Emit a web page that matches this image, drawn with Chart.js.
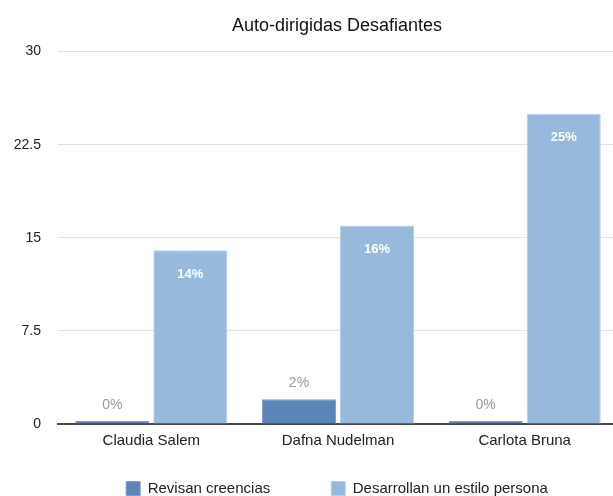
<!DOCTYPE html>
<html lang="es">
<head>
  <meta charset="UTF-8">
  <title>Auto-dirigidas Desafiantes</title>
  <script src="https://cdn.jsdelivr.net/npm/chart.js"></script>
  <style>
    * { margin:0; padding:0; box-sizing:border-box; }
    html,body { width:100%; height:100%; overflow:hidden; background:#fff; }
    #wrap { position:relative; width:676px; height:560px; }
  </style>
</head>
<body>
  <div id="wrap"><canvas id="chart"></canvas></div>

  <script>
    // chart data
    const categories = ["Claudia Salem", "Dafna Nudelman", "Carlota Bruna"];
    const revisan = [0, 2, 0];
    const desarrollan = [14, 16, 25];
    const seriesNames = ["Revisan creencias", "Desarrollan un estilo persona"];
    const yTicks = [0, 7.5, 15, 22.5, 30];

    const FONT = "'Liberation Sans', Arial, Helvetica, sans-serif";

    // percent labels (grey above the dark bars, white inside the light ones)
    // and the axis texts, placed from the chart's own scales
    const valueLabels = {
      id: 'valueLabels',
      afterDatasetsDraw(chart) {
        const ctx = chart.ctx;
        const area = chart.chartArea;
        ctx.save();
        ctx.textAlign = 'center';
        ctx.textBaseline = 'middle';
        chart.data.datasets.forEach((ds, di) => {
          chart.getDatasetMeta(di).data.forEach((bar, i) => {
            const txt = ds.data[i] + '%';
            if (di === 0) {
              ctx.fillStyle = '#9a9a9a';
              ctx.font = '14px ' + FONT;
              ctx.fillText(txt, bar.x, bar.y - 16);
            } else {
              ctx.fillStyle = '#ffffff';
              ctx.font = 'bold 13px ' + FONT;
              ctx.fillText(txt, bar.x, bar.y + 24);
            }
          });
        });
        ctx.fillStyle = '#222';
        ctx.font = '15px ' + FONT;
        chart.data.labels.forEach((lab, i) => {
          ctx.fillText(lab, chart.scales.x.getPixelForValue(i), area.bottom + 17);
        });
        ctx.textAlign = 'right';
        ctx.font = '14px ' + FONT;
        yTicks.forEach(v => {
          ctx.fillText(String(v), area.left - 17, chart.scales.y.getPixelForValue(v));
        });
        ctx.restore();
      }
    };

    new Chart(document.getElementById('chart'), {
      type: 'bar',
      data: {
        labels: categories,
        datasets: [
          { label: seriesNames[0], data: revisan, backgroundColor: '#5b84b8',
            borderColor: '#7d9fca', borderWidth: 1, minBarLength: 3 },
          { label: seriesNames[1], data: desarrollan, backgroundColor: '#96b9dc',
            borderColor: '#b5cfe8', borderWidth: 1 }
        ]
      },
      options: {
        responsive: true,
        maintainAspectRatio: false,
        animation: false,
        categoryPercentage: 0.836,
        barPercentage: 0.95,
        layout: { padding: { left: 56, right: 58, top: 0, bottom: 50 } },
        plugins: {
          title: {
            display: true,
            text: 'Auto-dirigidas Desafiantes',
            color: '#111',
            font: { family: FONT, size: 18, weight: 'normal' },
            padding: { top: 15, bottom: 15 }
          },
          legend: {
            position: 'bottom',
            labels: {
              color: '#222',
              font: { family: FONT, size: 15 },
              boxWidth: 14,
              boxHeight: 14,
              padding: 61
            }
          },
          tooltip: { enabled: false }
        },
        scales: {
          x: {
            grid: { display: false, drawTicks: false },
            border: { display: true, color: '#4a4a4a', width: 2 },
            ticks: { display: false },
            afterFit(scale) { scale.height = -4; }
          },
          y: {
            min: 0,
            max: 30,
            afterBuildTicks(scale) { scale.ticks = yTicks.map(v => ({ value: v })); },
            grid: { color: '#e2e2e2', lineWidth: 1, drawTicks: false },
            border: { display: false },
            ticks: { display: false },
            afterFit(scale) { scale.width = 2; }
          }
        }
      },
      plugins: [valueLabels]
    });
  </script>
</body>
</html>
